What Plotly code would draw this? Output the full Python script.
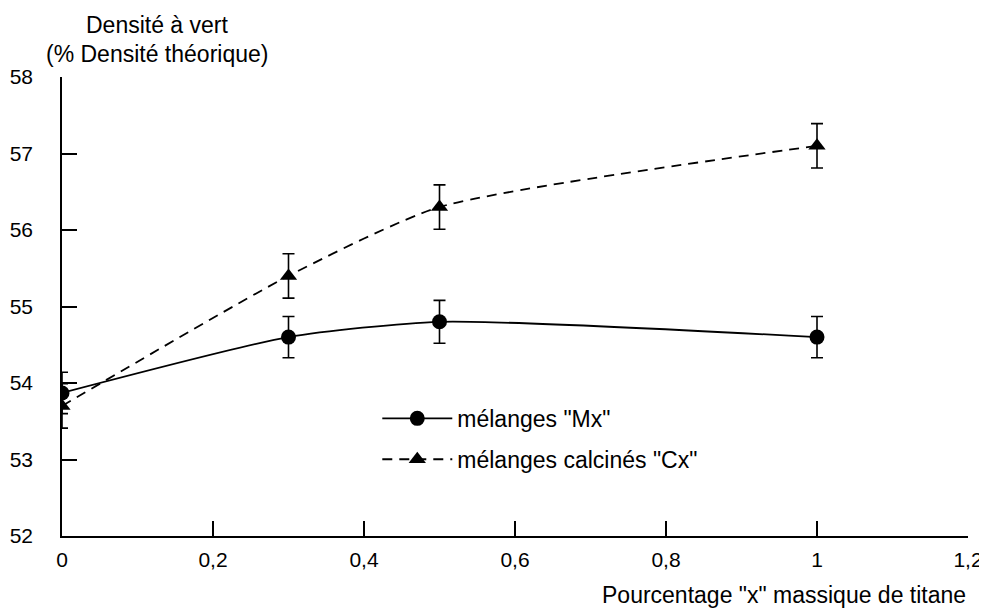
import plotly.graph_objects as go

x_vals = [0, 0.3, 0.5, 1]
mx_vals = [53.87, 54.6, 54.8, 54.6]
mx_err = [0.27, 0.27, 0.28, 0.27]
cx_vals = [53.7, 55.4, 56.3, 57.1]
cx_err = [0.29, 0.29, 0.29, 0.29]

x_ticks = [0, 0.2, 0.4, 0.6, 0.8, 1, 1.2]
y_ticks = [52, 53, 54, 55, 56, 57, 58]

fnt = dict(family="Liberation Sans, Arial, sans-serif", size=23, color="black")
tick_fnt = dict(family="Liberation Sans, Arial, sans-serif", size=21, color="black")

fig = go.Figure()
fig.add_trace(go.Scatter(
    x=x_vals, y=mx_vals, name='mélanges "Mx"', mode="lines+markers", legendgroup="m",
    line=dict(color="black", width=1.8, shape="spline", smoothing=0.6),
    marker=dict(symbol="circle", size=15, color="black"),
    error_y=dict(type="data", array=mx_err, color="black", thickness=1.6, width=6),
))
fig.add_trace(go.Scatter(
    x=x_vals, y=cx_vals, name='mélanges calcinés "Cx"', mode="lines+markers", legendgroup="c",
    line=dict(color="black", width=1.8, dash="10px,7px", shape="spline", smoothing=0.6),
    marker=dict(symbol="triangle-up", size=15, color="black"),
    error_y=dict(type="data", array=cx_err, color="black", thickness=1.6, width=6),
))

# the page body adds an 8px offset, so the figure is 8px smaller than the window
fig.update_layout(
    width=979, height=601,
    margin=dict(l=54, r=19, t=69, b=73),
    paper_bgcolor="white", plot_bgcolor="white",
    font=fnt,
    separators=", ",
    showlegend=True,
    legend=dict(x=0.348, y=0.303, xanchor="left", yanchor="top",
                bgcolor="rgba(0,0,0,0)", font=fnt, tracegroupgap=8,
                itemwidth=70),
    annotations=[
        dict(text="Densité à vert", x=0.105, y=1.113, xref="paper", yref="paper",
             showarrow=False, font=fnt, xanchor="center", yanchor="middle"),
        dict(text="(% Densité théorique)", x=0.105, y=1.05, xref="paper", yref="paper",
             showarrow=False, font=fnt, xanchor="center", yanchor="middle"),
        dict(text='Pourcentage "x" massique de titane', x=1.0, y=-0.128, xref="paper",
             yref="paper", showarrow=False, font=fnt, xanchor="right", yanchor="middle"),
    ],
)

fig.update_xaxes(
    range=[0, 1.2], tickmode="array", tickvals=x_ticks,
    ticktext=[str(v).replace(".", ",") for v in x_ticks], tickfont=tick_fnt,
    showgrid=False, zeroline=False, showline=True, linecolor="black", linewidth=1.6,
    ticks="inside", ticklen=15, tickwidth=1.6, tickcolor="black",
    ticklabelstandoff=4, automargin=False,
)
fig.update_yaxes(
    range=[52, 58], tickmode="array", tickvals=y_ticks, tickfont=tick_fnt,
    showgrid=False, zeroline=False, showline=True, linecolor="black", linewidth=1.6,
    ticks="inside", ticklen=15, tickwidth=1.6, tickcolor="black",
    ticklabelstandoff=23, automargin=False,
)

fig.write_html("out.html")
